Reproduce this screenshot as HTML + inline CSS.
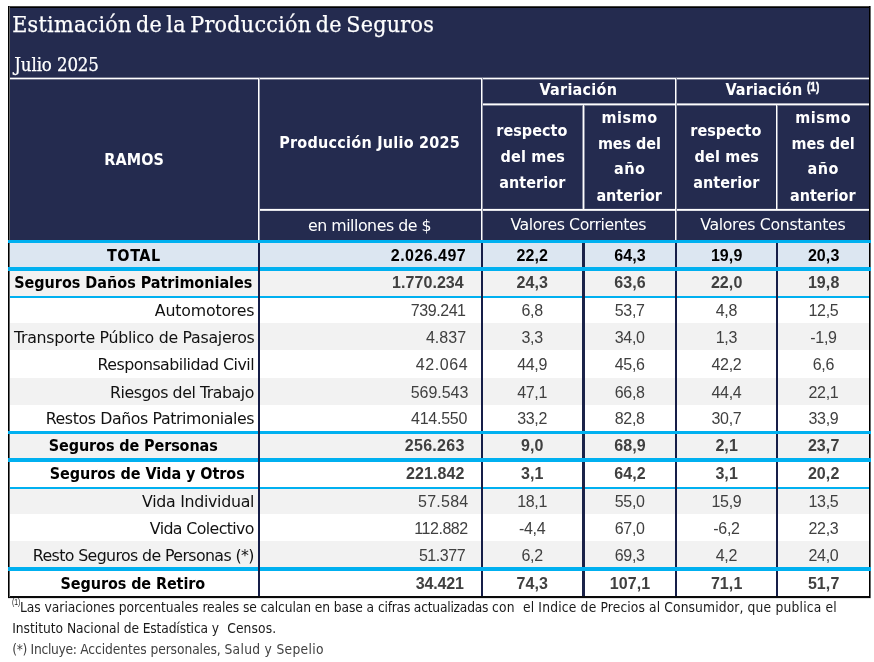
<!DOCTYPE html>
<html lang="es"><head><meta charset="utf-8"><title>Estimación de la Producción de Seguros</title>
<style>
html,body{margin:0;padding:0;background:#fff}
body{width:874px;height:662px;position:relative;overflow:hidden}
.r{position:absolute}
.t{position:absolute;white-space:pre;line-height:1;margin:0;padding:0}
.dc{font-family:"DejaVu Sans Condensed", "Liberation Sans", sans-serif}
.dr{font-family:"DejaVu Serif Condensed", "Liberation Serif", serif}
.ds{font-family:"DejaVu Sans", "Liberation Sans", sans-serif}
.ls{font-family:"Liberation Sans", sans-serif}
.b{font-weight:700}
</style></head><body>
<div class="r" style="left:10px;top:8px;width:859px;height:232px;background:#242b4f"></div>
<div class="r" style="left:10px;top:243px;width:859px;height:24px;background:#dce6f1"></div>
<div class="r" style="left:10px;top:271px;width:859px;height:25px;background:#f2f2f2"></div>
<div class="r" style="left:10px;top:323px;width:859px;height:27px;background:#f2f2f2"></div>
<div class="r" style="left:10px;top:378px;width:859px;height:27px;background:#f2f2f2"></div>
<div class="r" style="left:10px;top:434px;width:859px;height:24px;background:#f2f2f2"></div>
<div class="r" style="left:10px;top:489px;width:859px;height:25px;background:#f2f2f2"></div>
<div class="r" style="left:10px;top:541px;width:859px;height:26px;background:#f2f2f2"></div>
<div class="r" style="left:10px;top:296px;width:859px;height:2px;background:#00b0f0"></div>
<div class="r" style="left:10px;top:487px;width:859px;height:2px;background:#00b0f0"></div>
<div class="r" style="left:258px;top:243px;width:2px;height:353px;background:#161e48"></div>
<div class="r" style="left:481px;top:243px;width:2px;height:353px;background:#161e48"></div>
<div class="r" style="left:582px;top:243px;width:3px;height:353px;background:#1b2349"></div>
<div class="r" style="left:675px;top:243px;width:2px;height:353px;background:#161e48"></div>
<div class="r" style="left:776px;top:243px;width:2px;height:353px;background:#161e48"></div>
<div class="r" style="left:8px;top:6px;width:863px;height:1px;background:#444"></div>
<div class="r" style="left:8px;top:7px;width:863px;height:1px;background:#000"></div>
<div class="r" style="left:8px;top:596px;width:863px;height:2px;background:#0a0a0a"></div>
<div class="r" style="left:8px;top:598px;width:863px;height:1px;background:#e4e4e4"></div>
<div class="r" style="left:8px;top:6px;width:1px;height:592px;background:#000"></div>
<div class="r" style="left:9px;top:7px;width:1px;height:590px;background:#666"></div>
<div class="r" style="left:869px;top:6px;width:1px;height:592px;background:#000"></div>
<div class="r" style="left:870px;top:6px;width:1px;height:592px;background:#666"></div>
<div class="r" style="left:8px;top:240px;width:863px;height:3px;background:#00b0f0"></div>
<div class="r" style="left:8px;top:267px;width:863px;height:4px;background:#00b0f0"></div>
<div class="r" style="left:8px;top:431px;width:863px;height:3px;background:#00b0f0"></div>
<div class="r" style="left:8px;top:458px;width:863px;height:4px;background:#00b0f0"></div>
<div class="r" style="left:8px;top:567px;width:863px;height:4px;background:#00b0f0"></div>
<div class="r" style="left:258px;top:243px;width:2px;height:353px;background:#161e48"></div>
<div class="r" style="left:10px;top:77px;width:859px;height:1px;background:#71758d"></div>
<div class="r" style="left:10px;top:78px;width:859px;height:1px;background:#ffffff"></div>
<div class="r" style="left:10px;top:79px;width:859px;height:1px;background:#71758d"></div>
<div class="r" style="left:482px;top:103px;width:387px;height:1px;background:#a7aab9"></div>
<div class="r" style="left:482px;top:104px;width:387px;height:1px;background:#ffffff"></div>
<div class="r" style="left:482px;top:105px;width:387px;height:1px;background:#7c8095"></div>
<div class="r" style="left:259px;top:208px;width:610px;height:1px;background:#3a4061"></div>
<div class="r" style="left:259px;top:209px;width:610px;height:1px;background:#ffffff"></div>
<div class="r" style="left:259px;top:210px;width:610px;height:1px;background:#dedfe5"></div>
<div class="r" style="left:258px;top:78px;width:1px;height:162px;background:#ffffff"></div>
<div class="r" style="left:259px;top:78px;width:1px;height:162px;background:#9ca0b0"></div>
<div class="r" style="left:481px;top:78px;width:1px;height:162px;background:#ffffff"></div>
<div class="r" style="left:482px;top:78px;width:1px;height:162px;background:#9295a7"></div>
<div class="r" style="left:582px;top:105px;width:1px;height:104px;background:#878a9e"></div>
<div class="r" style="left:583px;top:105px;width:1px;height:104px;background:#ffffff"></div>
<div class="r" style="left:584px;top:105px;width:1px;height:104px;background:#878a9e"></div>
<div class="r" style="left:675px;top:78px;width:1px;height:162px;background:#ffffff"></div>
<div class="r" style="left:676px;top:78px;width:1px;height:162px;background:#9295a7"></div>
<div class="r" style="left:776px;top:105px;width:1px;height:104px;background:#ffffff"></div>
<div class="r" style="left:777px;top:105px;width:1px;height:104px;background:#9295a7"></div>
<div class="t dr" style="left:12.24px;top:13.2px;font-size:23px;color:#fff;letter-spacing:0.28px;word-spacing:-2.5px;-webkit-text-stroke:0.25px #fff">Estimación de la Producción de Seguros</div>
<div class="t dr" style="left:14.31px;top:55.5px;font-size:18.5px;color:#fff;letter-spacing:-0.12px;-webkit-text-stroke:0.25px #fff">Julio 2025</div>
<div class="t dc b" style="left:104.2px;top:151.9px;font-size:16px;color:#fff;letter-spacing:0.16px">RAMOS</div>
<div class="t dc b" style="left:279.2px;top:134.7px;font-size:16px;color:#fff;letter-spacing:0.25px">Producción Julio 2025</div>
<div class="t ds" style="left:307.91px;top:218px;font-size:15.8px;color:#fff;letter-spacing:-0.47px">en millones de $</div>
<div class="t dc b" style="left:539.6px;top:82.3px;font-size:16px;color:#fff;letter-spacing:0.25px">Variación</div>
<div class="t dc b" style="left:725.4px;top:82.3px;font-size:16px;color:#fff;letter-spacing:0.18px">Variación</div>
<div class="t ls b" style="left:806.83px;top:81.3px;font-size:12.5px;color:#fff;transform:scaleX(0.807);transform-origin:0 0;-webkit-text-stroke:0.45px #fff">(1)</div>
<div class="t dc b" style="left:496.3px;top:123.2px;font-size:16px;color:#fff;letter-spacing:0.03px">respecto</div>
<div class="t dc b" style="left:500.5px;top:148.8px;font-size:16px;color:#fff;letter-spacing:0.18px">del mes</div>
<div class="t dc b" style="left:499.2px;top:174.5px;font-size:16px;color:#fff;letter-spacing:0.08px">anterior</div>
<div class="t dc b" style="left:690.3px;top:123.2px;font-size:16px;color:#fff;letter-spacing:0.03px">respecto</div>
<div class="t dc b" style="left:694.5px;top:148.8px;font-size:16px;color:#fff;letter-spacing:0.18px">del mes</div>
<div class="t dc b" style="left:693.2px;top:174.5px;font-size:16px;color:#fff;letter-spacing:0.08px">anterior</div>
<div class="t dc b" style="left:601.6px;top:110.1px;font-size:16px;color:#fff;letter-spacing:0.53px">mismo</div>
<div class="t dc b" style="left:597.9px;top:136.1px;font-size:16px;color:#fff;letter-spacing:-0.04px">mes del</div>
<div class="t dc b" style="left:614px;top:161.2px;font-size:16px;color:#fff;letter-spacing:0.52px">año</div>
<div class="t dc b" style="left:596.4px;top:187.7px;font-size:16px;color:#fff;letter-spacing:-0.01px">anterior</div>
<div class="t dc b" style="left:795.2px;top:110.1px;font-size:16px;color:#fff;letter-spacing:0.53px">mismo</div>
<div class="t dc b" style="left:791.5px;top:136.1px;font-size:16px;color:#fff;letter-spacing:-0.04px">mes del</div>
<div class="t dc b" style="left:807.6px;top:161.2px;font-size:16px;color:#fff;letter-spacing:0.52px">año</div>
<div class="t dc b" style="left:790px;top:187.7px;font-size:16px;color:#fff;letter-spacing:-0.01px">anterior</div>
<div class="t ds" style="left:510.41px;top:217.4px;font-size:15.8px;color:#fff;letter-spacing:-0.47px">Valores Corrientes</div>
<div class="t ds" style="left:700.21px;top:217.4px;font-size:15.8px;color:#fff;letter-spacing:-0.35px">Valores Constantes</div>
<div class="t dc b" style="left:106.9px;top:248px;font-size:16px;color:#000;letter-spacing:0.61px">TOTAL</div>
<div class="t ls b" style="left:390.8px;top:248px;font-size:16px;color:#000;letter-spacing:0.46px">2.026.497</div>
<div class="t ls b" style="left:516.58px;top:248px;font-size:16px;color:#000;letter-spacing:0.1px">22,2</div>
<div class="t ls b" style="left:614.18px;top:248px;font-size:16px;color:#000;letter-spacing:0.1px">64,3</div>
<div class="t ls b" style="left:710.88px;top:248px;font-size:16px;color:#000;letter-spacing:0.1px">19,9</div>
<div class="t ls b" style="left:807.88px;top:248px;font-size:16px;color:#000;letter-spacing:0.1px">20,3</div>
<div class="t dc b" style="left:14.2px;top:275.3px;font-size:16px;color:#000;letter-spacing:-0.01px">Seguros Daños Patrimoniales</div>
<div class="t ls b" style="left:392.1px;top:275.3px;font-size:16px;color:#404040;letter-spacing:0.05px">1.770.234</div>
<div class="t ls b" style="left:516.58px;top:275.3px;font-size:16px;color:#404040;letter-spacing:0.1px">24,3</div>
<div class="t ls b" style="left:614.18px;top:275.3px;font-size:16px;color:#404040;letter-spacing:0.1px">63,6</div>
<div class="t ls b" style="left:710.88px;top:275.3px;font-size:16px;color:#404040;letter-spacing:0.1px">22,0</div>
<div class="t ls b" style="left:807.88px;top:275.3px;font-size:16px;color:#404040;letter-spacing:0.1px">19,8</div>
<div class="t ds" style="left:154.81px;top:303px;font-size:15.8px;color:#111;letter-spacing:-0.19px">Automotores</div>
<div class="t ls" style="left:410.86px;top:303px;font-size:16px;color:#404040;letter-spacing:-0.45px">739.241</div>
<div class="t ls" style="left:521.47px;top:303px;font-size:16px;color:#404040;letter-spacing:-0.3px">6,8</div>
<div class="t ls" style="left:614.78px;top:303px;font-size:16px;color:#404040;letter-spacing:-0.3px">53,7</div>
<div class="t ls" style="left:715.77px;top:303px;font-size:16px;color:#404040;letter-spacing:-0.3px">4,8</div>
<div class="t ls" style="left:808.48px;top:303px;font-size:16px;color:#404040;letter-spacing:-0.3px">12,5</div>
<div class="t ds" style="left:13.91px;top:329.6px;font-size:15.8px;color:#111;letter-spacing:-0.29px">Transporte Público de Pasajeros</div>
<div class="t ls" style="left:425.9px;top:329.6px;font-size:16px;color:#404040;letter-spacing:0.06px">4.837</div>
<div class="t ls" style="left:521.47px;top:329.6px;font-size:16px;color:#404040;letter-spacing:-0.3px">3,3</div>
<div class="t ls" style="left:614.78px;top:329.6px;font-size:16px;color:#404040;letter-spacing:-0.3px">34,0</div>
<div class="t ls" style="left:715.77px;top:329.6px;font-size:16px;color:#404040;letter-spacing:-0.3px">1,3</div>
<div class="t ls" style="left:810.26px;top:329.6px;font-size:16px;color:#404040;letter-spacing:-0.3px">-1,9</div>
<div class="t ds" style="left:97.61px;top:357px;font-size:15.8px;color:#111;letter-spacing:-0.52px">Responsabilidad Civil</div>
<div class="t ls" style="left:415.8px;top:357px;font-size:16px;color:#404040;letter-spacing:0.59px">42.064</div>
<div class="t ls" style="left:517.18px;top:357px;font-size:16px;color:#404040;letter-spacing:-0.3px">44,9</div>
<div class="t ls" style="left:614.78px;top:357px;font-size:16px;color:#404040;letter-spacing:-0.3px">45,6</div>
<div class="t ls" style="left:711.48px;top:357px;font-size:16px;color:#404040;letter-spacing:-0.3px">42,2</div>
<div class="t ls" style="left:812.77px;top:357px;font-size:16px;color:#404040;letter-spacing:-0.3px">6,6</div>
<div class="t ds" style="left:110.01px;top:384.5px;font-size:15.8px;color:#111;letter-spacing:-0.46px">Riesgos del Trabajo</div>
<div class="t ls" style="left:410.7px;top:384.5px;font-size:16px;color:#404040;letter-spacing:-0.04px">569.543</div>
<div class="t ls" style="left:517.18px;top:384.5px;font-size:16px;color:#404040;letter-spacing:-0.3px">47,1</div>
<div class="t ls" style="left:614.78px;top:384.5px;font-size:16px;color:#404040;letter-spacing:-0.3px">66,8</div>
<div class="t ls" style="left:711.48px;top:384.5px;font-size:16px;color:#404040;letter-spacing:-0.3px">44,4</div>
<div class="t ls" style="left:808.48px;top:384.5px;font-size:16px;color:#404040;letter-spacing:-0.3px">22,1</div>
<div class="t ds" style="left:45.71px;top:411.2px;font-size:15.8px;color:#111;letter-spacing:-0.41px">Restos Daños Patrimoniales</div>
<div class="t ls" style="left:411.1px;top:411.2px;font-size:16px;color:#404040;letter-spacing:-0.27px">414.550</div>
<div class="t ls" style="left:517.18px;top:411.2px;font-size:16px;color:#404040;letter-spacing:-0.3px">33,2</div>
<div class="t ls" style="left:614.78px;top:411.2px;font-size:16px;color:#404040;letter-spacing:-0.3px">82,8</div>
<div class="t ls" style="left:711.48px;top:411.2px;font-size:16px;color:#404040;letter-spacing:-0.3px">30,7</div>
<div class="t ls" style="left:808.48px;top:411.2px;font-size:16px;color:#404040;letter-spacing:-0.3px">33,9</div>
<div class="t dc b" style="left:48.8px;top:438.4px;font-size:16px;color:#000;letter-spacing:-0.1px">Seguros de Personas</div>
<div class="t ls b" style="left:404.8px;top:438.4px;font-size:16px;color:#404040;letter-spacing:0.29px">256.263</div>
<div class="t ls b" style="left:521.07px;top:438.4px;font-size:16px;color:#404040;letter-spacing:0.1px">9,0</div>
<div class="t ls b" style="left:614.18px;top:438.4px;font-size:16px;color:#404040;letter-spacing:0.1px">68,9</div>
<div class="t ls b" style="left:715.38px;top:438.4px;font-size:16px;color:#404040;letter-spacing:0.1px">2,1</div>
<div class="t ls b" style="left:807.88px;top:438.4px;font-size:16px;color:#404040;letter-spacing:0.1px">23,7</div>
<div class="t dc b" style="left:49.8px;top:466px;font-size:16px;color:#000;letter-spacing:-0.06px">Seguros de Vida y Otros</div>
<div class="t ls b" style="left:406px;top:466px;font-size:16px;color:#404040;letter-spacing:0.09px">221.842</div>
<div class="t ls b" style="left:521.07px;top:466px;font-size:16px;color:#404040;letter-spacing:0.1px">3,1</div>
<div class="t ls b" style="left:614.18px;top:466px;font-size:16px;color:#404040;letter-spacing:0.1px">64,2</div>
<div class="t ls b" style="left:715.38px;top:466px;font-size:16px;color:#404040;letter-spacing:0.1px">3,1</div>
<div class="t ls b" style="left:807.88px;top:466px;font-size:16px;color:#404040;letter-spacing:0.1px">20,2</div>
<div class="t ds" style="left:142.11px;top:494.2px;font-size:15.8px;color:#111;letter-spacing:-0.3px">Vida Individual</div>
<div class="t ls" style="left:418px;top:494.2px;font-size:16px;color:#404040;letter-spacing:0.25px">57.584</div>
<div class="t ls" style="left:517.18px;top:494.2px;font-size:16px;color:#404040;letter-spacing:-0.3px">18,1</div>
<div class="t ls" style="left:614.78px;top:494.2px;font-size:16px;color:#404040;letter-spacing:-0.3px">55,0</div>
<div class="t ls" style="left:711.48px;top:494.2px;font-size:16px;color:#404040;letter-spacing:-0.3px">15,9</div>
<div class="t ls" style="left:808.48px;top:494.2px;font-size:16px;color:#404040;letter-spacing:-0.3px">13,5</div>
<div class="t ds" style="left:149.81px;top:521px;font-size:15.8px;color:#111;letter-spacing:-0.61px">Vida Colectivo</div>
<div class="t ls" style="left:414.24px;top:521px;font-size:16px;color:#404040;letter-spacing:-0.45px">112.882</div>
<div class="t ls" style="left:518.96px;top:521px;font-size:16px;color:#404040;letter-spacing:-0.3px">-4,4</div>
<div class="t ls" style="left:614.78px;top:521px;font-size:16px;color:#404040;letter-spacing:-0.3px">67,0</div>
<div class="t ls" style="left:713.26px;top:521px;font-size:16px;color:#404040;letter-spacing:-0.3px">-6,2</div>
<div class="t ls" style="left:808.48px;top:521px;font-size:16px;color:#404040;letter-spacing:-0.3px">22,3</div>
<div class="t ds" style="left:32.81px;top:547.6px;font-size:15.8px;color:#111;letter-spacing:-0.62px">Resto Seguros de Personas (*)</div>
<div class="t ls" style="left:418.91px;top:547.6px;font-size:16px;color:#404040;letter-spacing:-0.45px">51.377</div>
<div class="t ls" style="left:521.47px;top:547.6px;font-size:16px;color:#404040;letter-spacing:-0.3px">6,2</div>
<div class="t ls" style="left:614.78px;top:547.6px;font-size:16px;color:#404040;letter-spacing:-0.3px">69,3</div>
<div class="t ls" style="left:715.77px;top:547.6px;font-size:16px;color:#404040;letter-spacing:-0.3px">4,2</div>
<div class="t ls" style="left:808.48px;top:547.6px;font-size:16px;color:#404040;letter-spacing:-0.3px">24,0</div>
<div class="t dc b" style="left:60.6px;top:575.7px;font-size:16px;color:#000;letter-spacing:-0.09px">Seguros de Retiro</div>
<div class="t ls b" style="left:415.7px;top:575.7px;font-size:16px;color:#404040;letter-spacing:-0.17px">34.421</div>
<div class="t ls b" style="left:516.58px;top:575.7px;font-size:16px;color:#404040;letter-spacing:0.1px">74,3</div>
<div class="t ls b" style="left:609.68px;top:575.7px;font-size:16px;color:#404040;letter-spacing:0.1px">107,1</div>
<div class="t ls b" style="left:710.88px;top:575.7px;font-size:16px;color:#404040;letter-spacing:0.1px">71,1</div>
<div class="t ls b" style="left:807.88px;top:575.7px;font-size:16px;color:#404040;letter-spacing:0.1px">51,7</div>
<div class="t ls" style="left:11.63px;top:597px;font-size:9.8px;color:#1a1a1a;transform:scaleX(0.695);transform-origin:0 0">(1)</div>
<div class="t dc" style="left:19.89px;top:600.8px;font-size:13.7px;color:#1a1a1a"><span style="letter-spacing:-0.01px">Las variaciones porcentuales </span><span style="letter-spacing:-0.09px">reales se calculan en base a </span><span style="letter-spacing:-0.22px">cifras actualizadas </span><span style="letter-spacing:0.19px">con  el Indice de </span><span style="letter-spacing:0.12px">Precios al Consumidor, </span><span style="letter-spacing:0.2px">que publica el</span></div>
<div class="t dc" style="left:12.19px;top:621.7px;font-size:13.7px;color:#1a1a1a"><span style="letter-spacing:-0.03px">Instituto Nacional </span><span style="letter-spacing:-0.14px">de Estadística </span><span style="letter-spacing:0.13px">y  Censos.</span></div>
<div class="t dc" style="left:12.19px;top:643.4px;font-size:13.7px;color:#404040"><span style="letter-spacing:-0.31px">(*) Incluye: </span><span style="letter-spacing:-0.08px">Accidentes personales, </span><span style="letter-spacing:0.31px">Salud y Sepelio</span></div>
</body></html>
